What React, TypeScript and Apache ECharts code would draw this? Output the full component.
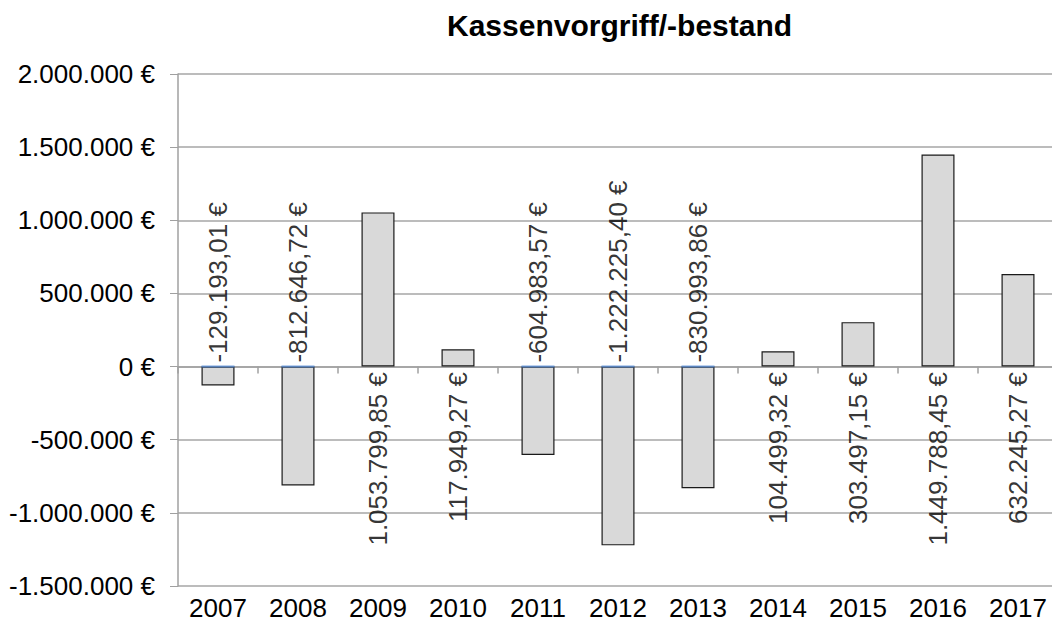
import React, { useEffect, useRef } from "react";
import * as echarts from "echarts";

const title = "Kassenvorgriff/-bestand";
const years = ["2007", "2008", "2009", "2010", "2011", "2012", "2013", "2014", "2015", "2016", "2017"];
const values = [
  -129193.01, -812646.72, 1053799.85, 117949.27, -604983.57, -1222225.4, -830993.86, 104499.32,
  303497.15, 1449788.45, 632245.27,
];
const yMin = -1500000;
const yMax = 2000000;
const yStep = 500000;

const FONT = "'Liberation Sans', Arial, sans-serif";

function groupThousands(s: string): string {
  return s.replace(/\B(?=(\d{3})+(?!\d))/g, ".");
}

function fmtEuro(v: number, decimals: number): string {
  const neg = v < 0;
  const abs = Math.abs(v);
  const fixed = abs.toFixed(decimals);
  const [intPart, decPart] = fixed.split(".");
  let s = groupThousands(intPart);
  if (decPart !== undefined) s += "," + decPart;
  return (neg ? "-" : "") + s + " €";
}

export default function App() {
  const ref = useRef<HTMLDivElement>(null);
  useEffect(() => {
    if (!ref.current) return;
    const chart = echarts.init(ref.current, undefined, { renderer: "svg" });
    const plotTop = 74;
    const plotBottom = 586;
    const labelData = values.map((v, i) => {
      const neg = v < 0;
      return {
        value: [years[i], 0],
        symbol: "rect",
        symbolSize: neg ? [33, 2] : [1, 1],
        itemStyle: { color: neg ? "#5b8fd6" : "rgba(0,0,0,0)" },
        label: {
          show: true,
          position: neg ? "top" : "bottom",
          distance: neg ? 3 : 5,
          rotate: 90,
          align: neg ? "left" : "right",
          verticalAlign: "middle",
          formatter: () => fmtEuro(v, 2),
          fontSize: 26,
          fontFamily: FONT,
          color: "#000",
        },
      };
    });
    chart.setOption({
      animation: false,
      backgroundColor: "#fff",
      title: {
        text: title,
        left: 447,
        top: 10,
        padding: 0,
        textStyle: { fontFamily: FONT, fontSize: 30, fontWeight: "bold", color: "#000" },
      },
      grid: {
        left: 178,
        top: plotTop,
        width: 880,
        bottom: 625 - plotBottom,
        containLabel: false,
        outerBoundsMode: "none",
      },
      xAxis: [
        {
          type: "category",
          data: years,
          position: "bottom",
          axisLine: { show: true, onZero: true, lineStyle: { color: "#a0a0a0", width: 1.5 } },
          axisTick: { show: true, length: 7, inside: false, lineStyle: { color: "#a0a0a0", width: 1.5 } },
          axisLabel: { show: false },
        },
        {
          type: "category",
          data: years,
          position: "bottom",
          axisLine: { show: false, onZero: false },
          axisTick: { show: false },
          axisLabel: { fontFamily: FONT, fontSize: 26, color: "#000", margin: 9 },
        },
      ],
      yAxis: {
        type: "value",
        min: yMin,
        max: yMax,
        interval: yStep,
        axisLine: { show: true, lineStyle: { color: "#a0a0a0", width: 1.5 } },
        axisTick: { show: true, length: 8, lineStyle: { color: "#a0a0a0" } },
        splitLine: { show: true, lineStyle: { color: "#a6a6a6", width: 1.5 } },
        axisLabel: {
          fontFamily: FONT,
          fontSize: 26,
          color: "#000",
          margin: 23,
          formatter: (v: number) => fmtEuro(v, 0),
        },
      },
      series: [
        {
          type: "bar",
          data: values,
          barWidth: 33,
          xAxisIndex: 0,
          itemStyle: { color: "#d9d9d9", borderColor: "#1a1a1a", borderWidth: 1.2 },
          z: 2,
        },
        {
          type: "scatter",
          xAxisIndex: 0,
          data: labelData,
          z: 4,
        },
      ],
    });
    return () => chart.dispose();
  }, []);
  return <div ref={ref} style={{ width: 1052, height: 625, position: "absolute", left: 0, top: 0 }} />;
}
